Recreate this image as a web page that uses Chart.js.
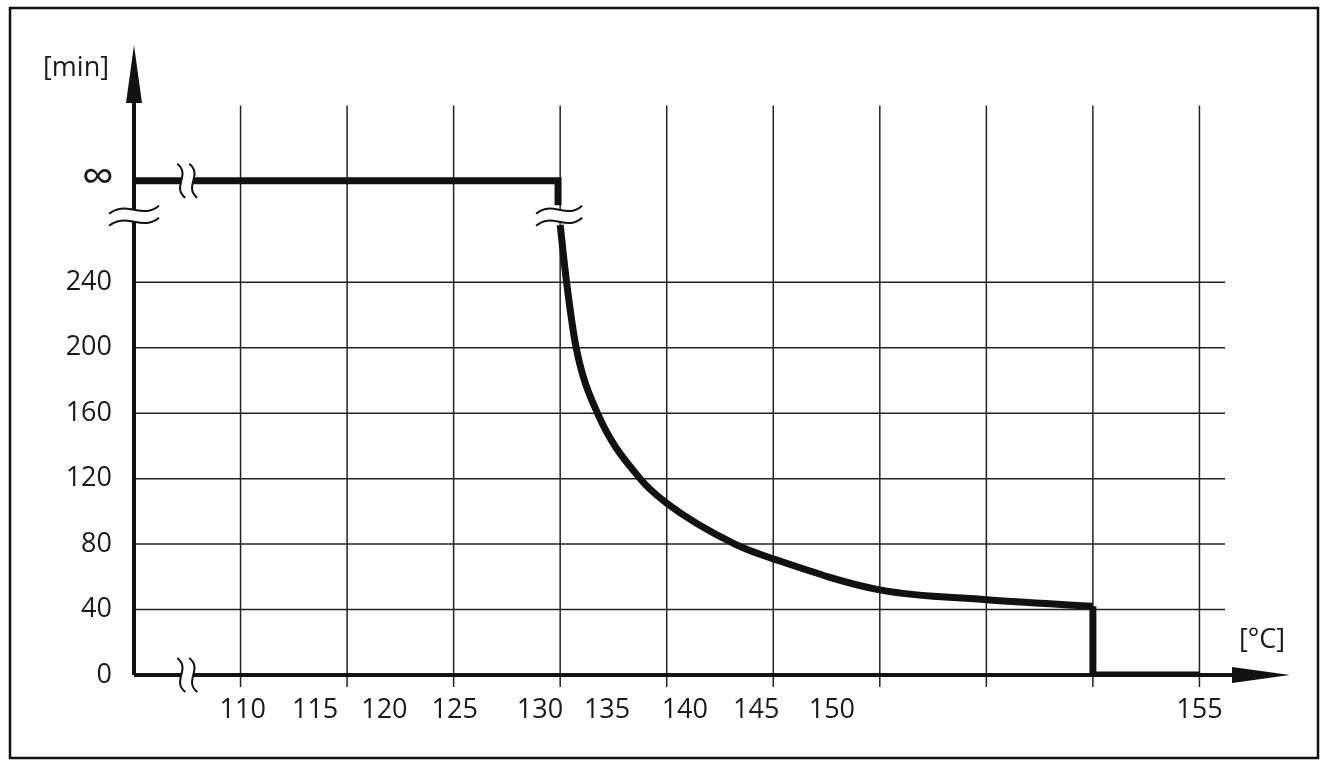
<!DOCTYPE html>
<html>
<head>
<meta charset="utf-8">
<script src="https://cdn.jsdelivr.net/npm/chart.js@4/dist/chart.umd.min.js"></script>
<style>
  html, body { margin: 0; padding: 0; background: #fff; }
  #wrap { width: 1328px; height: 768px; position: relative; }
</style>
</head>
<body>
<div id="wrap"><canvas id="heatChart" width="1328" height="768"></canvas></div>
<script>
// x units: one grid step per unit, 0 = first grid line
var gridX = [0, 1, 2, 3, 4, 5, 6, 7, 8, 9];
var gridY = [40, 80, 120, 160, 200, 240];
var yTickLabels = ['0', '40', '80', '120', '160', '200', '240'];
var yTickValues = [0, 40, 80, 120, 160, 200, 240];
var xTickLabels = ['110', '115', '120', '125', '130', '135', '140', '145', '150', '155'];
var xTickPos = [0.02, 0.70, 1.35, 2.01, 2.81, 3.44, 4.17, 4.84, 5.55, 9.0];
var infValue = 302;

var flatPart = [{x: -1, y: 302}, {x: 2.98, y: 302}, {x: 2.98, y: 287}];
var curvePart = [
    {x: 3.0, y: 275}, {x: 3.06, y: 240}, {x: 3.15, y: 200}, {x: 3.35, y: 160},
    {x: 3.75, y: 120}, {x: 4.0, y: 105}, {x: 4.64, y: 80}, {x: 5.0, y: 71},
    {x: 6.0, y: 52}, {x: 7.0, y: 46}, {x: 8.0, y: 42}
];
var tailPart = [{x: 8.0, y: 42}, {x: 8.0, y: 0}, {x: 9.0, y: 0}];

var FONT = '"Open Sans", "Noto Sans", sans-serif';

function breakMark(ctx, cx, cy, w, gap, vertical) {
    ctx.save();
    ctx.translate(cx, cy);
    if (vertical) ctx.rotate(Math.PI / 2);
    ctx.fillStyle = '#fff';
    ctx.beginPath();
    ctx.moveTo(-w / 2, -gap / 2 + 4);
    ctx.bezierCurveTo(-w / 6, -gap / 2 - 10, w / 6, -gap / 2 + 10, w / 2, -gap / 2 - 4);
    ctx.lineTo(w / 2, gap / 2 - 4);
    ctx.bezierCurveTo(w / 6, gap / 2 + 10, -w / 6, gap / 2 - 10, -w / 2, gap / 2 + 4);
    ctx.closePath();
    ctx.fill();
    ctx.strokeStyle = '#111';
    ctx.lineWidth = 2;
    [-gap / 2, gap / 2].forEach(function(o) {
        ctx.beginPath();
        ctx.moveTo(-w / 2, o + 4);
        ctx.bezierCurveTo(-w / 6, o - 10, w / 6, o + 10, w / 2, o - 4);
        ctx.stroke();
    });
    ctx.restore();
}

var gridPlugin = {
    id: 'gridPlugin',
    beforeDatasetsDraw: function(chart) {
        var ctx = chart.ctx, xs = chart.scales.x, ys = chart.scales.y;
        ctx.save();
        ctx.strokeStyle = '#222';
        ctx.lineWidth = 1.5;
        gridX.forEach(function(v) {
            var px = xs.getPixelForValue(v);
            ctx.beginPath();
            ctx.moveTo(px, ys.getPixelForValue(348));
            ctx.lineTo(px, ys.getPixelForValue(0) + 12);
            ctx.stroke();
        });
        gridY.forEach(function(v) {
            var py = ys.getPixelForValue(v);
            ctx.beginPath();
            ctx.moveTo(xs.getPixelForValue(-1), py);
            ctx.lineTo(xs.getPixelForValue(9.24), py);
            ctx.stroke();
        });
        ctx.restore();
    },
    afterDatasetsDraw: function(chart) {
        var ctx = chart.ctx, xs = chart.scales.x, ys = chart.scales.y;
        var x0 = xs.getPixelForValue(-1), y0 = ys.getPixelForValue(0);
        ctx.save();
        ctx.strokeStyle = '#111';
        ctx.fillStyle = '#111';
        ctx.lineWidth = 4;
        ctx.beginPath();
        ctx.moveTo(x0, y0);
        ctx.lineTo(x0, ys.getPixelForValue(360));
        ctx.moveTo(x0, y0);
        ctx.lineTo(xs.getPixelForValue(9.6), y0);
        ctx.stroke();
        var topY = ys.getPixelForValue(385), rightX = xs.getPixelForValue(9.85);
        ctx.beginPath();
        ctx.moveTo(x0, topY); ctx.lineTo(x0 - 8, topY + 58); ctx.lineTo(x0 + 8, topY + 58); ctx.closePath();
        ctx.fill();
        ctx.beginPath();
        ctx.moveTo(rightX, y0); ctx.lineTo(rightX - 58, y0 - 8); ctx.lineTo(rightX - 58, y0 + 8); ctx.closePath();
        ctx.fill();
        breakMark(ctx, x0, ys.getPixelForValue(infValue) + 35, 50, 12, false);
        breakMark(ctx, xs.getPixelForValue(-0.5), ys.getPixelForValue(infValue), 34, 12, true);
        breakMark(ctx, xs.getPixelForValue(-0.5), y0, 34, 12, true);
        breakMark(ctx, xs.getPixelForValue(2.99), ys.getPixelForValue(infValue) + 35, 46, 12, false);
        ctx.fillStyle = '#1a1a1a';
        ctx.font = '27px ' + FONT;
        ctx.textAlign = 'right';
        ctx.textBaseline = 'middle';
        yTickValues.forEach(function(v, i) {
            ctx.fillText(yTickLabels[i], x0 - 22, ys.getPixelForValue(v));
        });
        ctx.font = '46px ' + FONT;
        ctx.fillText('\u221E', x0 - 20, ys.getPixelForValue(infValue) - 2);
        ctx.font = '27px ' + FONT;
        ctx.textAlign = 'center';
        ctx.textBaseline = 'top';
        xTickLabels.forEach(function(t, i) {
            ctx.fillText(t, xs.getPixelForValue(xTickPos[i]), y0 + 22);
        });
        ctx.textBaseline = 'middle';
        ctx.fillText('[min]', 76, 68);
        ctx.fillText('[\u00B0C]', 1262, 640);
        ctx.strokeStyle = '#111';
        ctx.lineWidth = 2.5;
        ctx.strokeRect(10, 8, 1308, 750);
        ctx.restore();
    }
};

function lineSet(data, extra) {
    return Object.assign({
        data: data,
        borderColor: '#111',
        borderWidth: 7,
        pointRadius: 0,
        fill: false,
        borderCapStyle: 'butt',
        borderJoinStyle: 'miter'
    }, extra || {});
}

var ctx = document.getElementById('heatChart').getContext('2d');
new Chart(ctx, {
    type: 'line',
    data: {
        datasets: [
            lineSet(flatPart),
            lineSet(curvePart, { cubicInterpolationMode: 'monotone' }),
            lineSet(tailPart)
        ]
    },
    options: {
        responsive: false,
        animation: false,
        layout: { padding: { left: 134, right: 38, top: 45, bottom: 93 } },
        plugins: { legend: { display: false }, tooltip: { enabled: false } },
        scales: {
            x: { type: 'linear', min: -1, max: 9.85, display: false },
            y: { type: 'linear', min: 0, max: 385, display: false }
        }
    },
    plugins: [gridPlugin]
});
</script>
</body>
</html>
